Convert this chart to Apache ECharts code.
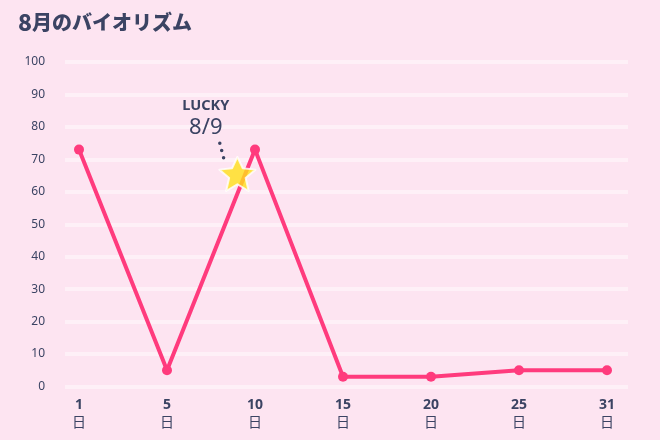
<!DOCTYPE html>
<html><head><meta charset="utf-8">
<script src="https://cdn.jsdelivr.net/npm/echarts@6/dist/echarts.min.js"></script>
<style>html,body{margin:0;padding:0;background:#fde4f1}#c{width:660px;height:440px}</style>
</head><body><div id="c"></div>
<script>
const days = ['1','5','10','15','20','25','31'];
const values = [73, 5, 73, 3, 3, 5, 5];
const yTicks = [0,10,20,30,40,50,60,70,80,90,100];
const luckyLabel = 'LUCKY';
const luckyDate = '8/9';
const luckyPoint = [[1.8, 65.5]];
const luckyLeader = [[1.6, 75], [1.65, 69.8]];

const navy = '#3b4363';
const pink = '#ff3b7d';
const starPath = 'path://M50,2 L64,32 L98,36 L72,58 L80,93 L50,75 L20,93 L28,58 L2,36 L36,32 Z';

const chart = echarts.init(document.getElementById('c'), null, {renderer:'canvas'});
chart.setOption({
  backgroundColor: '#fde4f1',
  animation: false,
  title: {
    text: '{n|8}{t|月のバイオリズム}',
    left: 13, top: 6,
    textStyle: {
      rich: {
        n: {fontSize: 23, fontWeight: 900, color: navy, fontFamily: 'Noto Sans CJK JP'},
        t: {fontSize: 20, fontWeight: 900, color: navy, fontFamily: 'Noto Sans CJK JP'}
      }
    }
  },
  grid: [
    {left: 65, right: 32, top: 62, bottom: 53.5},
    {left: 79, right: 53, top: 62, bottom: 53.5}
  ],
  xAxis: [
    {gridIndex: 0, type: 'value', show: false, min: 0, max: 1},
    {gridIndex: 1, type: 'category', data: days, boundaryGap: false,
     axisLine: {show: false}, axisTick: {show: false},
     axisLabel: {
       margin: 10,
       formatter: v => '{d|' + v + '}\n{u|日}',
       rich: {
         d: {fontSize: 14, fontWeight: 'bold', color: navy, fontFamily: 'Noto Sans', lineHeight: 17},
         u: {fontSize: 14, color: navy, fontFamily: 'Noto Sans CJK JP', lineHeight: 17}
       }
     }},
    {gridIndex: 1, type: 'value', show: false, min: 0, max: days.length - 1}
  ],
  yAxis: [
    {gridIndex: 0, type: 'value', min: 0, max: 100, interval: 10,
     axisLine: {show: false}, axisTick: {show: false},
     axisLabel: {margin: 20, color: navy, fontSize: 12, fontFamily: 'Noto Sans', padding: [0,0,5,0],
       formatter: v => yTicks.includes(v) ? String(v) : ''},
     splitLine: {lineStyle: {color: 'rgba(255,255,255,0.45)', width: 4}}},
    {gridIndex: 1, type: 'value', min: 0, max: 100, show: false}
  ],
  series: [
    {
      type: 'line', xAxisIndex: 1, yAxisIndex: 1, data: values,
      symbol: 'circle', symbolSize: 10,
      lineStyle: {color: pink, width: 4},
      itemStyle: {color: pink},
      z: 3
    },
    {
      type: 'line', xAxisIndex: 2, yAxisIndex: 1, data: luckyLeader,
      symbol: 'none',
      lineStyle: {color: navy, width: 3.5, type: [0, 7.5], cap: 'round'},
      markPoint: {
        symbol: 'circle', symbolSize: 0,
        data: [{coord: luckyLeader[0], value: luckyLabel}],
        label: {
          show: true, position: 'top', distance: 3, offset: [-14, 0],
          formatter: '{a|' + luckyLabel + '}\n{b|' + luckyDate + '}',
          rich: {
            a: {fontSize: 14.5, fontWeight: 'bold', color: navy, fontFamily: 'Noto Sans', lineHeight: 18, align: 'center'},
            b: {fontSize: 22, color: navy, fontFamily: 'Noto Sans', lineHeight: 25, align: 'center'}
          }
        }
      },
      z: 4
    },
    {
      type: 'scatter', xAxisIndex: 2, yAxisIndex: 1, data: luckyPoint,
      symbol: starPath, symbolSize: [36, 34],
      itemStyle: {color: '#ffe019', borderColor: '#ffffff', borderWidth: 2, borderJoin: 'round'},
      z: 5
    }
  ]
});
</script></body></html>
